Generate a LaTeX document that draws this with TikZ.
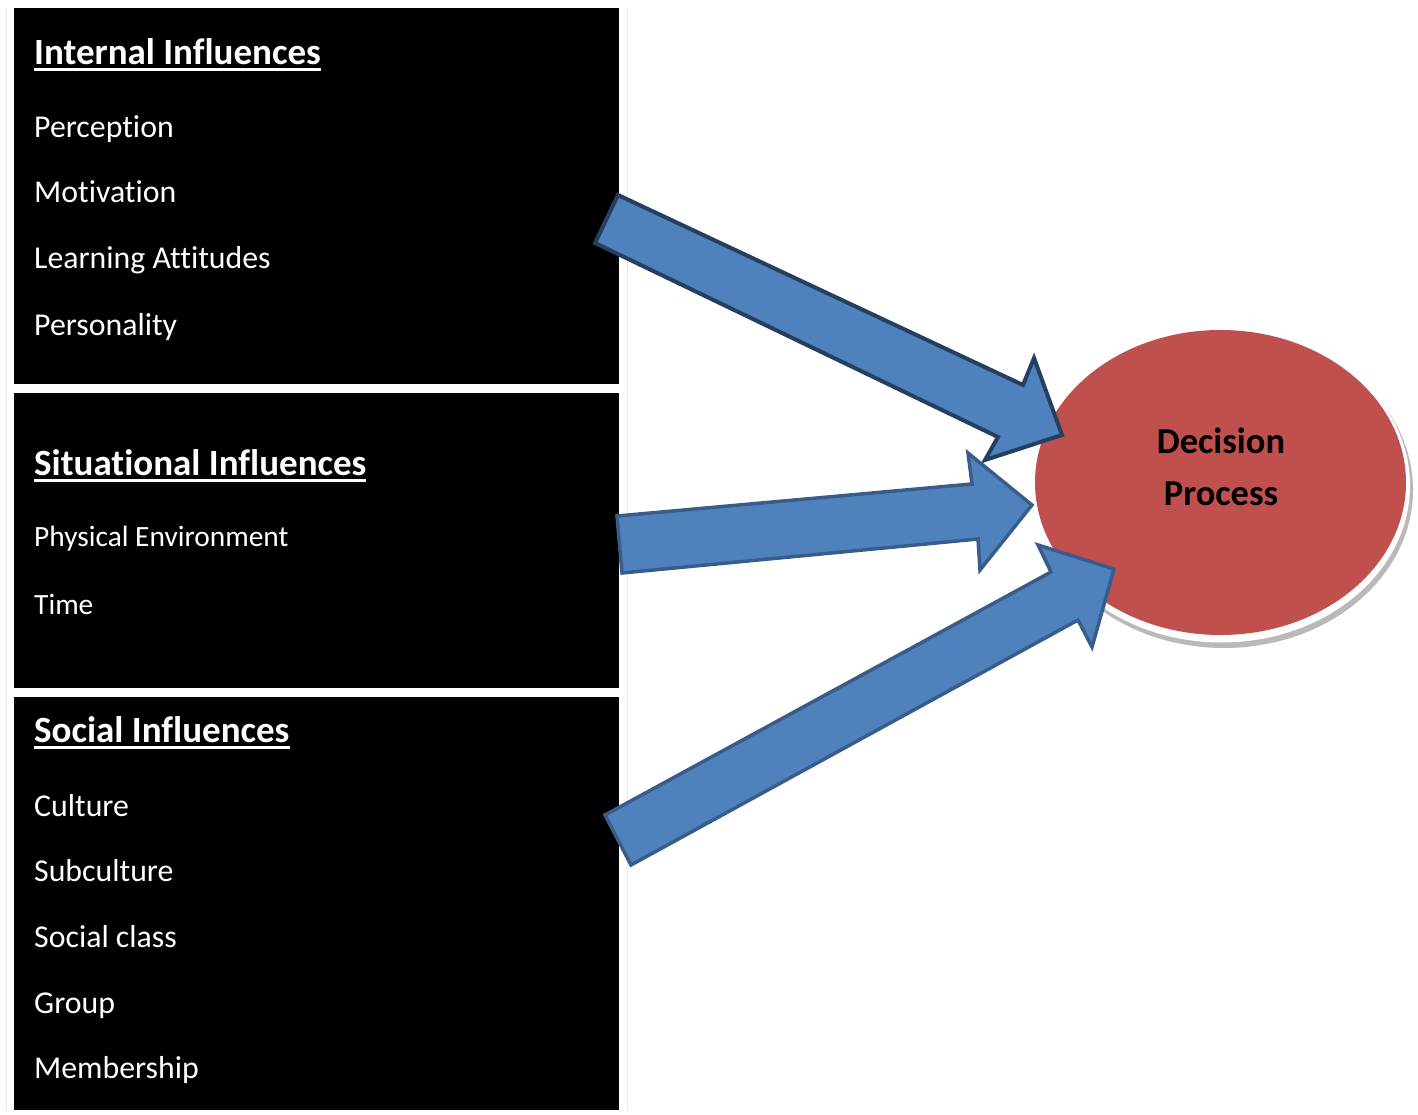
\documentclass[tikz,border=0pt]{standalone}
\usepackage{fontspec}
\setmainfont{Carlito}[Ligatures=NoCommon]
\definecolor{boxblack}{HTML}{000000}
\definecolor{decred}{HTML}{C0504D}
\definecolor{arrowblue}{HTML}{4F81BD}
\definecolor{edgedark}{HTML}{243F60}
\definecolor{edgeblue}{HTML}{385D8A}
\begin{document}
\begin{tikzpicture}[x=1pt,y=-1pt,
  panel/.style={fill=boxblack,draw=none},
  heading/.style={anchor=base west,inner sep=0pt,text=white,font=\fontsize{37}{44}\selectfont\bfseries},
  item/.style={anchor=base west,inner sep=0pt,text=white,font=\fontsize{31.8}{38}\selectfont},
  smallitem/.style={item,font=\fontsize{29.4}{35}\selectfont},
  uline/.style={draw=white,line width=2.6pt},
  fatarrow/.style={fill=arrowblue,draw=edgeblue,line width=3.5pt,line join=miter},
  centre/.style={align=center,inner sep=0pt,font=\fontsize{36.5}{52.5}\selectfont\bfseries}]
\useasboundingbox (0,0) rectangle (1418,1115);

% faint table frame
\draw[gray!18,line width=1pt] (6.5,8) -- (6.5,1110);
\draw[gray!18,line width=1pt] (627,8) -- (627,1110);

% three black panels
\fill[panel] (14,8) rectangle (619,384);
\fill[panel] (14,393) rectangle (619,688);
\fill[panel] (14,697) rectangle (619,1110);

% internal influences
\node[heading] (h1) at (34,64.5) {Internal Influences};
\draw[uline] ([yshift=-5pt]h1.base west) -- ([yshift=-5pt]h1.base east);
\node[item] (i1) at (34,138) {Perception};
\node[item] (i2) at (34,203) {Motivation};
\node[item] (i3) at (34,269) {Learning Attitudes};
\node[item] (i4) at (34,335) {Personality};

% situational influences
\node[heading] (h2) at (34,475.5) {Situational Influences};
\draw[uline] ([yshift=-5pt]h2.base west) -- ([yshift=-5pt]h2.base east);
\node[smallitem] (s1) at (34,546) {Physical Environment};
\node[smallitem] (s2) at (34,614) {Time};

% social influences
\node[heading] (h3) at (34,742.5) {Social Influences};
\draw[uline] ([yshift=-5pt]h3.base west) -- ([yshift=-5pt]h3.base east);
\node[item] (c1) at (34,816) {Culture};
\node[item] (c2) at (34,881) {Subculture};
\node[item] (c3) at (34,947) {Social class};
\node[item] (c4) at (34,1013) {Group};
\node[item] (c5) at (34,1078) {Membership};

% decision ellipse with soft shadow and white rim
\fill[gray!55] (1224,490) ellipse [x radius=189, y radius=158];
\fill[white] (1221.5,485.5) ellipse [x radius=188.5, y radius=157];
\fill[decred] (1220.5,482.5) ellipse [x radius=185.5, y radius=152.5];
\node[centre] (dp) at (1221,467) {Decision\\Process};

% block arrows
\draw[fatarrow,draw=edgedark,line width=4pt]
  (618,195) -- (1023,385) -- (1034,358) -- (1062,435) -- (985,460)
  -- (998,437) -- (595,243) -- cycle;
\draw[fatarrow]
  (617,516) -- (972,484) -- (968,453) -- (1032,505) -- (980,570)
  -- (978,539) -- (622,573) -- cycle;
\draw[fatarrow]
  (605,815) -- (1051,572) -- (1038,545) -- (1114,569) -- (1092,647)
  -- (1078,620) -- (631,865) -- cycle;
\end{tikzpicture}
\end{document}
